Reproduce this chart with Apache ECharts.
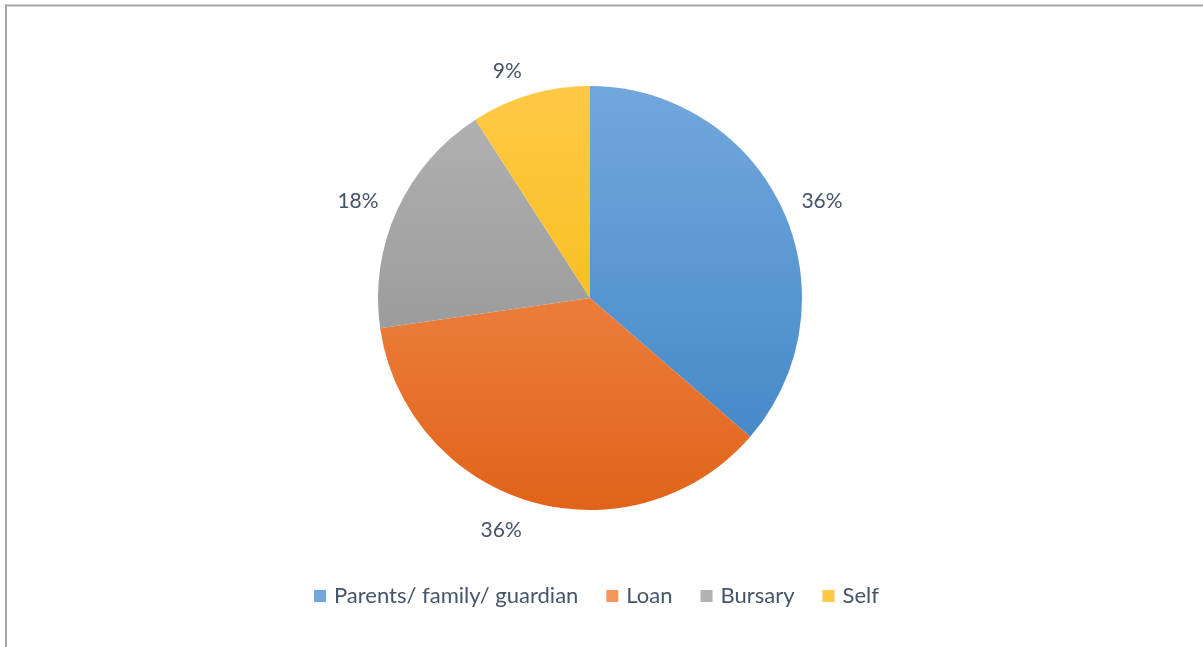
<!DOCTYPE html>
<html>
<head>
<meta charset="utf-8">
<script src="https://cdn.jsdelivr.net/npm/echarts@6/dist/echarts.min.js"></script>
<style>
  html, body { margin: 0; padding: 0; background: #ffffff; }
  #chart { width: 1203px; height: 647px; }
</style>
</head>
<body>
<div id="chart"></div>
<script>
// Funding sources, counts per category
const categories = ['Parents/ family/ guardian', 'Loan', 'Bursary', 'Self'];
const counts = [4, 4, 2, 1];

// Vertical gradient stops (top, bottom) for each slice
const topColors = ['#72a7dc', '#f5975c', '#b3b3b3', '#ffc946'];
const bottomColors = ['#3d84c4', '#e1631a', '#8b8b8b', '#f1b700'];

const CX = 590, CY = 298, R = 212;
const LABEL_ANCHOR = R + 16;   // distance of the label anchor from the centre
const textColor = '#44546a';
const fontFamily = 'Lato, "Open Sans", sans-serif';

// Mid-angle of each slice, clockwise from 12 o'clock
const total = counts.reduce((a, b) => a + b, 0);
const midAngles = [];
let acc = 0;
counts.forEach(v => {
  midAngles.push((acc + v / 2) / total * 2 * Math.PI);
  acc += v;
});

function sliceColor(i) {
  return {
    type: 'linear', global: true,
    x: CX, y: CY - R, x2: CX, y2: CY + R,
    colorStops: [
      { offset: 0, color: topColors[i] },
      { offset: 1, color: bottomColors[i] }
    ]
  };
}

const chart = echarts.init(document.getElementById('chart'), null, { renderer: 'canvas' });

chart.setOption({
  animation: false,
  backgroundColor: '#ffffff',
  graphic: [
    { type: 'line', shape: { x1: 5, y1: 5.5, x2: 1203, y2: 5.5 }, style: { stroke: '#a6a6a6', lineWidth: 2 } },
    { type: 'line', shape: { x1: 6, y1: 4.5, x2: 6, y2: 647 }, style: { stroke: '#a6a6a6', lineWidth: 2 } }
  ],
  legend: {
    data: categories,
    bottom: 35,
    left: 309,
    icon: 'rect',
    itemWidth: 12,
    itemHeight: 12,
    itemGap: 28,
    textStyle: { color: textColor, fontSize: 22, fontFamily: fontFamily, padding: [0, 0, 0, 3] }
  },
  series: [{
    type: 'pie',
    center: [CX, CY],
    radius: R,
    startAngle: 90,
    clockwise: true,
    data: categories.map((name, i) => ({
      name: name,
      value: counts[i],
      itemStyle: { color: sliceColor(i) }
    })),
    itemStyle: { borderWidth: 0 },
    label: {
      show: true,
      position: 'outside',
      formatter: p => Math.round(p.percent) + '%',
      color: textColor,
      fontSize: 21,
      fontFamily: fontFamily
    },
    labelLine: { show: false, length: 16, length2: 0 },
    // anchor each label just outside the rim on its slice's mid-angle,
    // text running away from the pie
    labelLayout: function (params) {
      const a = midAngles[params.dataIndex];
      const ux = Math.sin(a), uy = -Math.cos(a);
      const side = ux < 0 ? -1 : 1;
      return {
        x: CX + LABEL_ANCHOR * ux + side * 4,
        y: CY + LABEL_ANCHOR * uy + 11 * uy + 2.5,
        align: side < 0 ? 'right' : 'left',
        verticalAlign: 'middle'
      };
    },
    emphasis: { disabled: true }
  }]
});
</script>
</body>
</html>
